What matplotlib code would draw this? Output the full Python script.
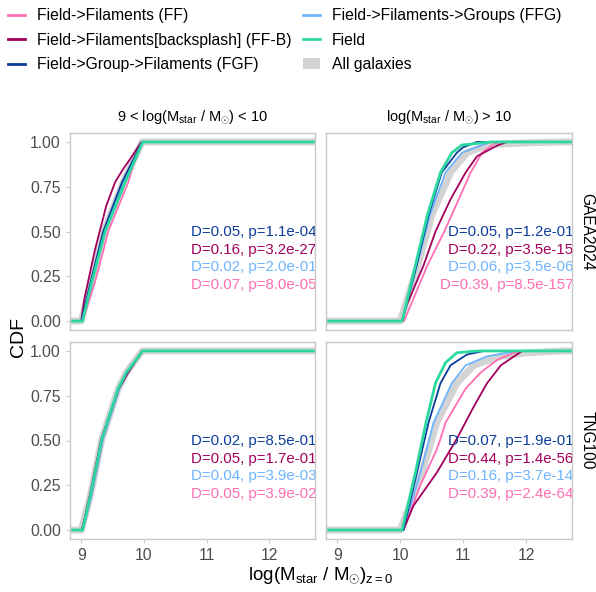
import numpy as np
import matplotlib
matplotlib.use("Agg")
import matplotlib.pyplot as plt
from matplotlib.lines import Line2D
from matplotlib.patches import Patch

plt.rcParams['font.family'] = ['Liberation Sans', 'DejaVu Sans']
plt.rcParams['mathtext.fontset'] = 'custom'
plt.rcParams['mathtext.rm'] = 'Liberation Sans'
plt.rcParams['mathtext.it'] = 'Liberation Sans:italic'

# series names / colours
series = ["FF", "FF-B", "FGF", "FFG", "Field", "All"]
labels = {
    "FF": "Field->Filaments (FF)",
    "FF-B": "Field->Filaments[backsplash] (FF-B)",
    "FGF": "Field->Group->Filaments (FGF)",
    "FFG": "Field->Filaments->Groups (FFG)",
    "Field": "Field",
    "All": "All galaxies",
}
colors = {
    "FF": "#ff6eb4",
    "FF-B": "#a3005c",
    "FGF": "#0b3d9c",
    "FFG": "#6eb4ff",
    "Field": "#2bd9a0",
    "All": "#d3d3d3",
}

col_titles = [r"9 < log(M$_{\rm star}$ / M$_{\odot}$) < 10", r"log(M$_{\rm star}$ / M$_{\odot}$) > 10"]
row_titles = ["GAEA2024", "TNG100"]

# CDF curves: (log mass, cdf)
gaea_low = {
    "All":   ([9.00, 9.16, 9.36, 9.67, 9.97], [0, 0.22, 0.50, 0.775, 1.0]),
    "FFG":   ([9.02, 9.17, 9.38, 9.68, 9.98], [0, 0.22, 0.50, 0.775, 1.0]),
    "FF":    ([9.02, 9.22, 9.29, 9.43, 9.75, 9.83, 9.98], [0, 0.22, 0.31, 0.50, 0.775, 0.87, 1.0]),
    "FF-B":  ([9.00, 9.05, 9.22, 9.40, 9.54, 9.67, 9.80, 9.96], [0, 0.125, 0.40, 0.645, 0.775, 0.85, 0.915, 1.0]),
    "FGF":   ([9.00, 9.15, 9.35, 9.65, 9.97], [0, 0.22, 0.50, 0.775, 1.0]),
    "Field": ([9.02, 9.17, 9.38, 9.70, 9.98], [0, 0.22, 0.50, 0.775, 1.0]),
}
gaea_high = {
    "All":   ([10.00, 10.28, 10.50, 10.80, 11.06, 11.40, 12.00, 12.60], [0, 0.31, 0.59, 0.83, 0.94, 0.985, 0.995, 1.0]),
    "FFG":   ([10.03, 10.265, 10.47, 10.72, 10.98, 11.44], [0, 0.31, 0.59, 0.83, 0.94, 1.0]),
    "FF":    ([10.06, 10.21, 10.43, 10.70, 10.93, 11.12, 11.30, 11.49, 11.60], [0, 0.125, 0.31, 0.50, 0.68, 0.83, 0.94, 0.99, 1.0]),
    "FF-B":  ([10.03, 10.10, 10.37, 10.56, 10.80, 11.04, 11.22, 11.54, 11.70], [0, 0.087, 0.31, 0.50, 0.68, 0.83, 0.92, 0.98, 1.0]),
    "FGF":   ([10.03, 10.26, 10.45, 10.66, 10.90, 11.00, 11.22], [0, 0.31, 0.59, 0.83, 0.94, 0.97, 1.0]),
    "Field": ([10.03, 10.24, 10.43, 10.64, 10.82, 10.98, 11.44], [0, 0.31, 0.59, 0.83, 0.94, 0.983, 1.0]),
}
tng_low = {
    "All":   ([9.00, 9.15, 9.33, 9.59, 9.72, 9.97], [0, 0.20, 0.51, 0.79, 0.88, 1.0]),
    "FFG":   ([9.03, 9.17, 9.35, 9.61, 9.74, 9.98], [0, 0.20, 0.51, 0.79, 0.88, 1.0]),
    "FF":    ([9.02, 9.16, 9.34, 9.60, 9.73, 9.98], [0, 0.20, 0.51, 0.79, 0.88, 1.0]),
    "FF-B":  ([9.01, 9.14, 9.32, 9.60, 9.75, 9.97], [0, 0.20, 0.51, 0.79, 0.88, 1.0]),
    "FGF":   ([9.01, 9.15, 9.33, 9.59, 9.73, 9.98], [0, 0.20, 0.51, 0.79, 0.88, 1.0]),
    "Field": ([9.02, 9.15, 9.33, 9.59, 9.72, 9.98], [0, 0.20, 0.51, 0.79, 0.88, 1.0]),
}
tng_high = {
    "All":   ([10.00, 10.345, 10.58, 10.90, 11.17, 11.60, 12.00, 12.60], [0, 0.32, 0.60, 0.82, 0.92, 0.97, 0.99, 1.0]),
    "FFG":   ([10.05, 10.32, 10.53, 10.82, 11.04, 11.38, 11.86], [0, 0.32, 0.60, 0.82, 0.92, 0.97, 1.0]),
    "FF":    ([10.05, 10.32, 10.58, 10.64, 10.72, 11.04, 11.28, 11.54, 11.81, 11.97], [0, 0.25, 0.45, 0.51, 0.60, 0.79, 0.88, 0.95, 0.99, 1.0]),
    "FF-B":  ([10.05, 10.21, 10.58, 10.90, 11.17, 11.38, 11.60, 11.81, 11.94], [0, 0.136, 0.32, 0.51, 0.69, 0.82, 0.92, 0.97, 1.0]),
    "FGF":   ([10.05, 10.265, 10.45, 10.64, 10.80, 11.06, 11.33], [0, 0.32, 0.60, 0.82, 0.92, 0.98, 1.0]),
    "Field": ([10.03, 10.24, 10.41, 10.56, 10.72, 10.90, 11.22], [0, 0.32, 0.60, 0.82, 0.935, 0.99, 1.0]),
}
panels = [[gaea_low, gaea_high], [tng_low, tng_high]]

# KS test annotations (FGF, FF-B, FFG, FF)
ks_series = ["FGF", "FF-B", "FFG", "FF"]
ks_text = [
    [["D=0.05, p=1.1e-04", "D=0.16, p=3.2e-27", "D=0.02, p=2.0e-01", "D=0.07, p=8.0e-05"],
     ["D=0.05, p=1.2e-01", "D=0.22, p=3.5e-15", "D=0.06, p=3.5e-06", "D=0.39, p=8.5e-157"]],
    [["D=0.02, p=8.5e-01", "D=0.05, p=1.7e-01", "D=0.04, p=3.9e-03", "D=0.05, p=3.9e-02"],
     ["D=0.07, p=1.9e-01", "D=0.44, p=1.4e-56", "D=0.16, p=3.7e-14", "D=0.39, p=2.4e-64"]],
]

W, H = 596, 592
fig = plt.figure(figsize=(W / 100, H / 100), dpi=100)

def px_axes(x0, y0, x1, y1):
    return fig.add_axes([x0 / W, 1 - y1 / H, (x1 - x0) / W, (y1 - y0) / H])

xlim = (8.82, 12.73)
ylim = (-0.05, 1.05)
boxes = [[(70, 133, 315, 330), (326, 133, 572, 330)],
         [(70, 342, 315, 539), (326, 342, 572, 539)]]
border = "#c8c8c8"
tickc = "#4d4d4d"

for r in range(2):
    for c in range(2):
        ax = px_axes(*boxes[r][c])
        ax.set_xlim(xlim)
        ax.set_ylim(ylim)
        data = panels[r][c]
        for s in ["All", "FFG", "FF", "FF-B", "FGF", "Field"]:
            x, y = data[s]
            # pad ecdf to the panel edges like stat_ecdf does
            xx = [xlim[0]] + list(x) + [xlim[1]]
            yy = [0] + list(y) + [1]
            lw = {"All": 5, "Field": 2.0}.get(s, 1.3)
            ax.plot(xx, yy, color=colors[s], lw=lw, solid_capstyle='butt', zorder=2)
        for i, (s, t) in enumerate(zip(ks_series, ks_text[r][c])):
            ax.text(12.75, 0.495 - 0.098 * i, t, color=colors[s], ha='right', va='center',
                    fontsize=10.8, clip_on=True, zorder=5)
        for sp in ax.spines.values():
            sp.set_color(border)
            sp.set_linewidth(1.0)
        ax.tick_params(colors=border, labelcolor=tickc, labelsize=11.3, length=3, width=0.8)
        ax.set_xticks([9, 10, 11, 12])
        ax.set_yticks([0, 0.25, 0.5, 0.75, 1.0])
        if c == 0:
            ax.set_yticklabels(["0.00", "0.25", "0.50", "0.75", "1.00"])
        else:
            ax.tick_params(labelleft=False, left=False)
        if r == 0:
            ax.tick_params(labelbottom=False, bottom=False)
            ax.set_title(col_titles[c], fontsize=10.5, pad=9)
        if c == 1:
            ax.text(1.03, 0.5, row_titles[r], transform=ax.transAxes, rotation=-90,
                    ha='left', va='center', fontsize=11.2)

fig.text(18 / W, 1 - 337 / H, "CDF", rotation=90, ha='center', va='center', fontsize=14)
fig.text(321 / W, 1 - 576 / H, r"log(M$_{\rm star}$ / M$_{\odot}$)$_{\rm z=0}$",
         ha='center', va='center', fontsize=13.5)

handles = []
for s in series:
    if s == "All":
        handles.append(Patch(facecolor=colors[s], edgecolor='none'))
    else:
        handles.append(Line2D([], [], color=colors[s], lw=2))
fig.legend(handles, [labels[s] for s in series], ncol=2, loc='upper left',
           bbox_to_anchor=(-0.011, 1.01), frameon=False, fontsize=11.3,
           handlelength=1.1, handletextpad=0.75, columnspacing=0.75, labelspacing=0.6)

fig.savefig("out.png", dpi=100, facecolor="white")
